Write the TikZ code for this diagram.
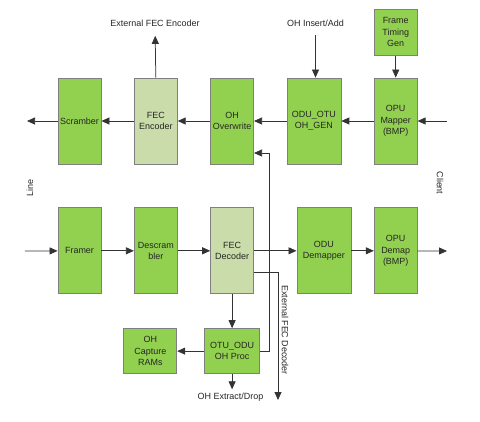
\documentclass[tikz,border=0pt]{standalone}
\usepackage{fontspec}
\setmainfont{Liberation Sans}
\usepackage{tikz}
\usetikzlibrary{positioning,arrows.meta}
\definecolor{boxgreen}{HTML}{92D050}
\definecolor{fecgreen}{HTML}{C9DCA9}
\definecolor{edgegray}{HTML}{7F7F7F}
\definecolor{wiregray}{HTML}{333333}

\begin{document}
\begin{tikzpicture}[x=1bp, y=-1bp,
node distance=32.5bp, >={Triangle[length=8bp,width=7bp]},
greenbox/.style={rectangle, draw=edgegray, fill=boxgreen, line width=0.8bp, minimum width=43bp, minimum height=86bp, align=center, inner sep=1bp},
fecbox/.style={greenbox, fill=fecgreen},
wire/.style={draw=wiregray, line width=0.75bp}]
\tikzstyle{every node}=[font=\fontsize{9}{11.5}\selectfont, text=black!85]
\useasboundingbox (0,0) rectangle (480,421);
% transmit row
\node[greenbox] (1) at (79.5,121) {Scramber};
\node[fecbox] (2) [right=of 1] {FEC\\Encoder};
\node[greenbox] (3) [right=of 2] {OH\\Overwrite};
\node[greenbox, minimum width=54bp] (4) [right=of 3] {ODU\_OTU\\OH\_GEN};
\node[greenbox] (5) [right=of 4] {OPU\\Mapper\\(BMP)};
\node[greenbox, minimum height=46bp] (6) [above=22bp of 5] {Frame\\Timing\\Gen};
% receive row
\node[greenbox] (7) [below=43bp of 1] {Framer};
\node[greenbox] (8) [below=43bp of 2] {Descram\\bler};
\node[fecbox] (9) [below=43bp of 3] {FEC\\Decoder};
\node[greenbox, minimum width=54bp] (10) [below=43bp of 4, xshift=10bp] {ODU\\Demapper};
\node[greenbox] (11) [below=43bp of 5] {OPU\\Demap\\(BMP)};
\node[greenbox, minimum width=55bp, minimum height=45bp] (12) [below=34bp of 9] {OTU\_ODU\\OH Proc};
\node[greenbox, minimum width=53bp, minimum height=45bp] (13) [left=27bp of 12] {OH\\Capture\\RAMs};
% labels
\node (encout) at (155,23) {External FEC Encoder};
\node (ohins) at (315.5,23) {OH Insert/Add};
\node (extract) at (230.5,397) {OH Extract/Drop};
\node[rotate=90] (line) at (30,188) {Line};
\node[rotate=-90] (client) at (440,183) {Client};
\node[rotate=-90] (decout) at (285,330) {External FEC Decoder};
\coordinate (lineout) at (27,121);
\coordinate (clientin) at (447,121);
\coordinate (linein) at (25,251);
\coordinate (clientout) at (447,251);
\coordinate (decend) at (278,400);
% connectors
\draw[wire,->] (clientin) -- (5);
\draw[wire,->] (5) -- (4);
\draw[wire,->] (4) -- (3);
\draw[wire,->] (3) -- (2);
\draw[wire,->] (2) -- (1);
\draw[wire,->] (1) -- (lineout);
\draw[wire,->] (6) -- (5);
\draw[wire,->, shorten >=6bp] (2.north) -- (encout);
\draw[wire,->, shorten <=5.5bp] (ohins.south) -- (ohins.south |- 4.north);
\draw[wire,->] (linein) -- (7);
\draw[wire,->] (7) -- (8);
\draw[wire,->] (8) -- (9);
\draw[wire,->] (9) -- (10);
\draw[wire,->] (10) -- (11);
\draw[wire,->] (11) -- (clientout);
\draw[wire,->] (9) -- (12);
\draw[wire,->] (12) -- (13);
\draw[wire,->] (12.south) -- (12.south |- extract.north);
\draw[wire,->] (12.east) -- ++(9bp,0) |- ([yshift=-32bp]3.east);
\draw[wire,->] ([yshift=-22bp]9.east) -| (decend);
\end{tikzpicture}
\end{document}
